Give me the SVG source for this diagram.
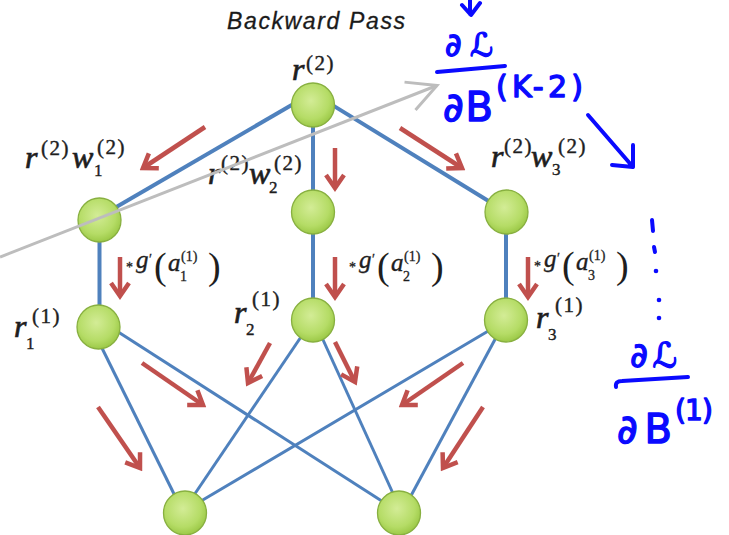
<svg xmlns="http://www.w3.org/2000/svg" width="729" height="535" viewBox="0 0 729 535">
<style>
.edge{stroke:#4f81bd;fill:none;stroke-linecap:butt}
.e1{stroke-width:4}
.e2{stroke-width:3}
.red{stroke:#c0504d;stroke-width:4.5;fill:none;marker-end:url(#ra)}
.node{fill:url(#ng);stroke:#88b040;stroke-width:1.3}
.m{font-family:"Liberation Serif","DejaVu Serif",serif;font-style:italic;font-size:32px;fill:#1e1e1e;stroke:#1e1e1e;stroke-width:0.7}
.sp{font-family:"Liberation Serif","DejaVu Serif",serif;font-size:21px;letter-spacing:1.5px;fill:#1e1e1e;stroke:#1e1e1e;stroke-width:0.4}
.sb{font-family:"Liberation Serif","DejaVu Serif",serif;font-size:17px;fill:#1e1e1e;stroke:#1e1e1e;stroke-width:0.4}
.g{font-family:"Liberation Serif","DejaVu Serif",serif;font-style:italic;font-size:25px;fill:#1e1e1e;stroke:#1e1e1e;stroke-width:0.4}
.gp{font-family:"Liberation Serif","DejaVu Serif",serif;font-size:38px;fill:#1e1e1e}
.gs{font-family:"Liberation Serif","DejaVu Serif",serif;font-size:14px;fill:#1e1e1e;stroke:#1e1e1e;stroke-width:0.3}
.title{font-family:"Liberation Sans","Open Sans",sans-serif;font-style:italic;font-size:23px;fill:#1a1a1a;stroke:#1a1a1a;stroke-width:0.3}
.hw{font-family:"DejaVu Sans","Noto Sans",sans-serif;fill:#0a0aff;stroke:#0a0aff;stroke-width:1.4;stroke-linejoin:round}
.hs{stroke:#0a0aff;stroke-width:4;fill:none;stroke-linecap:round;stroke-linejoin:round}
.gray{stroke:#bdbdbd;stroke-width:3;fill:none;marker-end:url(#ga)}
</style>
<defs>
<radialGradient id="ng" cx="0.45" cy="0.4" r="0.6">
<stop offset="0" stop-color="#d3ec96"/>
<stop offset="0.7" stop-color="#b5dc66"/>
<stop offset="1" stop-color="#9cc947"/>
</radialGradient>
<marker id="ra" viewBox="-18 -12 22 24" refX="0" refY="0" markerWidth="22" markerHeight="24" markerUnits="userSpaceOnUse" orient="auto">
<path d="M-13,-9 L0,0 L-13,9" fill="none" stroke="#c0504d" stroke-width="4.5"/>
</marker>
<marker id="ga" viewBox="-34 -20 38 40" refX="0" refY="0" markerWidth="38" markerHeight="40" markerUnits="userSpaceOnUse" orient="auto">
<path d="M-29,-15 L0,0 L-29,15" fill="none" stroke="#bdbdbd" stroke-width="3"/>
</marker>
</defs>
<rect width="729" height="535" fill="#ffffff"/>

<text class="title" x="227" y="29" textLength="178">Backward Pass</text>

<g id="connectors">
<line class="edge e1" x1="296" y1="102.5" x2="112" y2="209.5"/>
<line class="edge e1" x1="330" y1="103.6" x2="495" y2="205"/>
<line class="edge e1" x1="313" y1="110" x2="313" y2="205"/>
<line class="edge e1" x1="99.5" y1="225" x2="99.5" y2="320"/>
<line class="edge e1" x1="313" y1="215" x2="313" y2="315"/>
<line class="edge e1" x1="506" y1="215" x2="506" y2="315"/>
<line class="edge e2" x1="98" y1="340" x2="177" y2="500"/>
<line class="edge e2" x1="112" y1="328" x2="388" y2="505"/>
<line class="edge e2" x1="305" y1="331" x2="190" y2="501"/>
<line class="edge e2" x1="319" y1="331" x2="396" y2="500"/>
<line class="edge e2" x1="495" y1="327" x2="196" y2="504"/>
<line class="edge e2" x1="499" y1="332" x2="406" y2="505"/>
</g>

<g id="flow-arrows">
<line class="red" x1="205" y1="127" x2="143" y2="168"/>
<line class="red" x1="335" y1="148" x2="335" y2="188"/>
<line class="red" x1="400" y1="128" x2="462" y2="168"/>
<line class="red" x1="120" y1="257" x2="120" y2="296"/>
<line class="red" x1="335" y1="257" x2="335" y2="297"/>
<line class="red" x1="528" y1="257" x2="528" y2="297"/>
<line class="red" x1="98" y1="407" x2="140" y2="468"/>
<line class="red" x1="142" y1="363" x2="203" y2="405"/>
<line class="red" x1="270" y1="343" x2="248" y2="383"/>
<line class="red" x1="335" y1="342" x2="355" y2="382"/>
<line class="red" x1="463" y1="363" x2="402" y2="405"/>
<line class="red" x1="483" y1="407" x2="443" y2="468"/>
</g>

<g id="node-top"><ellipse class="node" cx="313" cy="105" rx="21.5" ry="22"/></g>
<g id="node-h1"><ellipse class="node" cx="99.5" cy="220" rx="21.5" ry="22"/></g>
<g id="node-h2"><ellipse class="node" cx="313" cy="212" rx="21.5" ry="22"/></g>
<g id="node-h3"><ellipse class="node" cx="506.5" cy="212" rx="21.5" ry="22"/></g>
<g id="node-r1"><ellipse class="node" cx="98.5" cy="327" rx="21.5" ry="22"/></g>
<g id="node-r2"><ellipse class="node" cx="313" cy="320" rx="21.5" ry="22"/></g>
<g id="node-r3"><ellipse class="node" cx="506" cy="320" rx="21.5" ry="22"/></g>
<g id="node-b1"><ellipse class="node" cx="185" cy="513" rx="21.5" ry="22"/></g>
<g id="node-b2"><ellipse class="node" cx="399" cy="513" rx="21.5" ry="22"/></g>

<g id="labels">
<text class="m" x="292" y="80">r</text><text class="sp" x="306" y="70">(2)</text>

<text class="m" x="25" y="168">r</text><text class="sp" x="41" y="155">(2)</text>
<text class="m" x="72" y="168">w</text><text class="sb" x="94" y="176">1</text><text class="sp" x="97" y="154">(2)</text>

<text class="m" x="208" y="184">r</text><text class="sp" x="221" y="170" font-size="18" letter-spacing="0">(2)</text>
<text class="m" x="249" y="184">w</text><text class="sb" x="269" y="193">2</text><text class="sp" x="274" y="170">(2)</text>

<text class="m" x="491" y="167">r</text><text class="sp" x="504" y="153" font-size="19" letter-spacing="0.5">(2)</text>
<text class="m" x="531" y="167">w</text><text class="sb" x="552" y="175">3</text><text class="sp" x="558" y="153">(2)</text>

<text class="m" x="14" y="337">r</text><text class="sb" x="26" y="349">1</text><text class="sp" x="32" y="323">(1)</text>
<text class="m" x="234" y="323">r</text><text class="sb" x="246" y="335">2</text><text class="sp" x="252" y="306">(1)</text>
<text class="m" x="536" y="328">r</text><text class="sb" x="548" y="340">3</text><text class="sp" x="555" y="312">(1)</text>

<g id="gprime-1">
<text class="gs" x="126" y="272">*</text><text class="g" x="136" y="268">g</text><text class="gs" x="149" y="264">′</text>
<text class="gp" x="154" y="279">(</text><text class="g" x="168" y="271">a</text><text class="gs" x="180" y="281">1</text><text class="gs" x="181" y="261">(1)</text><text class="gp" x="208" y="279">)</text>
</g>
<g id="gprime-2" transform="translate(223,0)">
<text class="gs" x="126" y="272">*</text><text class="g" x="136" y="268">g</text><text class="gs" x="149" y="264">′</text>
<text class="gp" x="154" y="279">(</text><text class="g" x="168" y="271">a</text><text class="gs" x="180" y="281">2</text><text class="gs" x="181" y="261">(1)</text><text class="gp" x="208" y="279">)</text>
</g>
<g id="gprime-3" transform="translate(408,-1)">
<text class="gs" x="126" y="272">*</text><text class="g" x="136" y="268">g</text><text class="gs" x="149" y="264">′</text>
<text class="gp" x="154" y="279">(</text><text class="g" x="168" y="271">a</text><text class="gs" x="180" y="281">3</text><text class="gs" x="181" y="261">(1)</text><text class="gp" x="208" y="279">)</text>
</g>
</g>

<g id="annotation-gray">
<line class="gray" x1="0" y1="257" x2="437" y2="85.5"/>
</g>

<g id="handwriting">
<path class="hs" d="M470,0 L470,14 M462,5 L471,15 L480,3"/>
<text class="hw" x="445" y="56" font-size="32" textLength="48">∂ℒ</text>
<path class="hs" d="M437,72 L505,66"/>
<text class="hw" x="443" y="121" font-size="40" textLength="50">∂B</text>
<text class="hw" x="496" y="97" font-size="30" textLength="87">(K-2)</text>
<path class="hs" d="M588,115 L633,167 M633,145 L633,167 L612,165"/>
<path class="hs" d="M652,220 L653,231 M654,247 L655,252"/>
<circle cx="656" cy="271" r="2.3" fill="#0a0aff"/>
<circle cx="659" cy="300" r="2.3" fill="#0a0aff"/>
<circle cx="659" cy="318" r="2.3" fill="#0a0aff"/>
<text class="hw" x="630" y="367" font-size="34" textLength="47">∂ℒ</text>
<path class="hs" d="M616,387 Q615,381 622,381 L688,377"/>
<text class="hw" x="617" y="443" font-size="40" textLength="55">∂B</text>
<text class="hw" x="675" y="420" font-size="28" textLength="38">(1)</text>
</g>
</svg>
